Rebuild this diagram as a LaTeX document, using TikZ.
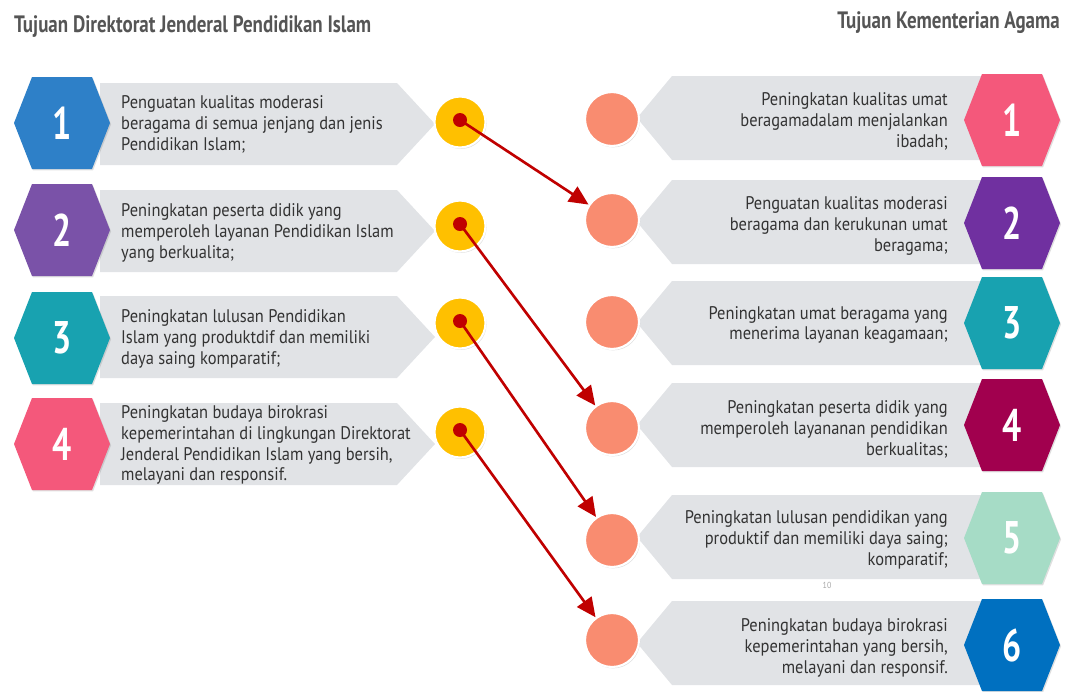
\documentclass[tikz,border=0pt]{standalone}
\usepackage{fontspec}
\setmainfont{PT Sans}[FakeStretch=0.9]
\newfontfamily\chiffres{PT Sans}[FakeStretch=0.74]
\newfontfamily\titres{PT Sans}[FakeStretch=0.8]
\usetikzlibrary{arrows.meta, shadows}

\definecolor{gristitre}{HTML}{555555}
\definecolor{gristexte}{HTML}{333333}
\definecolor{bande}{HTML}{E1E3E6}
\definecolor{jaune}{HTML}{FFC000}
\definecolor{rouge}{HTML}{C00000}
\definecolor{saumon}{HTML}{F98C70}
\definecolor{hbleu}{HTML}{2E80C8}
\definecolor{hviolet}{HTML}{7A52A8}
\definecolor{hturq}{HTML}{18A2B0}
\definecolor{hrose}{HTML}{F4587B}
\definecolor{hpourpre}{HTML}{7030A0}
\definecolor{hbordeaux}{HTML}{A1004E}
\definecolor{hmenthe}{HTML}{A6DCC6}
\definecolor{hazur}{HTML}{0070C0}

\tikzset{
  bandeau/.style={fill=bande},
  ombre/.style={drop shadow={opacity=0.25, shadow xshift=0.6pt, shadow yshift=-0.8pt}},
  titre/.style={text=gristitre, font=\titres\bfseries\fontsize{13.5}{15}\selectfont},
  chiffre/.style={text=white, font=\chiffres\bfseries\fontsize{26}{26}\selectfont},
  texteg/.style={anchor=west, align=left, text=gristexte, font=\fontsize{10.4}{11.9}\selectfont},
  icoded/.style={anchor=east, align=right, text=gristexte, font=\fontsize{10.4}{11.9}\selectfont},
  rond/.style={circle, draw=white, line width=1.2pt, ombre, inner sep=0pt},
  fleche/.style={rouge, line width=1.5pt, -{Triangle[length=11pt, width=10pt]}}
}

% hexagone : centre, couleur, chiffre, nom
\newcommand{\hexa}[4]{%
  \fill[#2, ombre] (#1) ++(-48,0) -- ++(18,-46) -- ++(60,0) -- ++(18,46)
    -- ++(-18,46) -- ++(-60,0) -- cycle;
  \node[chiffre] (#4) at (#1) {#3};}

\begin{document}
\begin{tikzpicture}[x=0.02cm, y=-0.02cm]
  \useasboundingbox (0,0) rectangle (1071,691);

  % titres
  \node[titre, anchor=west] (titreg) at (8,27) {Tujuan Direktorat Jenderal Pendidikan Islam};
  \node[titre, anchor=east] (titred) at (1066,23) {Tujuan Kementerian Agama};

  % cote gauche
  \foreach \c in {124, 231, 337, 444}
    \fill[bandeau] (100,\c-41) -- (397,\c-41) -- (435,\c) -- (397,\c+41) -- (100,\c+41) -- cycle;
  \hexa{62,123}{hbleu}{1}{g1}
  \hexa{62,230}{hviolet}{2}{g2}
  \hexa{62,338}{hturq}{3}{g3}
  \hexa{62,444}{hrose}{4}{g4}

  \node[texteg] (tg1) at (115,124) {Penguatan kualitas moderasi\\beragama di semua jenjang dan jenis\\Pendidikan Islam;};
  \node[texteg] (tg2) at (115,233) {Peningkatan peserta didik yang\\memperoleh layanan Pendidikan Islam\\yang berkualita;};
  \node[texteg] (tg3) at (115,339) {Peningkatan lulusan Pendidikan\\Islam yang produktdif dan memiliki\\daya saing komparatif;};
  \node[texteg] (tg4) at (115,445) {Peningkatan budaya birokrasi\\kepemerintahan di lingkungan Direktorat\\Jenderal Pendidikan Islam yang bersih,\\melayani dan responsif.};

  % cote droit
  \foreach \c in {118, 222, 323, 425, 537, 643}
    \fill[bandeau] (637,\c) -- (672,\c-42) -- (985,\c-42) -- (985,\c+42) -- (672,\c+42) -- cycle;
  \hexa{1012,120}{hrose}{1}{d1}
  \hexa{1012,223}{hpourpre}{2}{d2}
  \hexa{1012,323}{hturq}{3}{d3}
  \hexa{1012,425}{hbordeaux}{4}{d4}
  \hexa{1012,538}{hmenthe}{5}{d5}
  \hexa{1012,645}{hazur}{6}{d6}

  \node[icoded] (td1) at (954,121) {Peningkatan kualitas umat\\beragamadalam menjalankan\\ibadah;};
  \node[icoded] (td2) at (954,226) {Penguatan kualitas moderasi\\beragama dan kerukunan umat\\beragama;};
  \node[icoded] (td3) at (954,325) {Peningkatan umat beragama yang\\menerima layanan keagamaan;};
  \node[icoded] (td4) at (954,429) {Peningkatan peserta didik yang\\memperoleh layananan pendidikan\\berkualitas;};
  \node[icoded] (td5) at (954,540) {Peningkatan lulusan pendidikan yang\\produktif dan memiliki daya saing;\\komparatif;};
  \node[icoded] (td6) at (954,648) {Peningkatan budaya birokrasi\\kepemerintahan yang bersih,\\melayani dan responsif.};

  \node[text=gray!70, font=\fontsize{5}{5}\selectfont] (page) at (827,585) {10};

  % ronds
  \foreach \y [count=\i] in {122, 226, 323, 432}
    \node[rond, fill=jaune, minimum size=1.02cm] (j\i) at (460,\y) {};
  \foreach \y [count=\i] in {119, 220, 322, 428, 540, 640}
    \node[rond, fill=saumon, minimum size=1.08cm] (s\i) at (612,\y) {};

  % liens
  \draw[fleche] (j1.center) ++(0,-2) -- (s2);
  \draw[fleche] (j2.center) ++(0,-2) -- (s4);
  \draw[fleche] (j3.center) ++(0,-2) -- (s5);
  \draw[fleche] (j4.center) ++(0,-2) -- (s6);
  \foreach \i in {1,...,4}
    \fill[rouge] (j\i.center) ++(0,-2) circle (7);
\end{tikzpicture}
\end{document}
